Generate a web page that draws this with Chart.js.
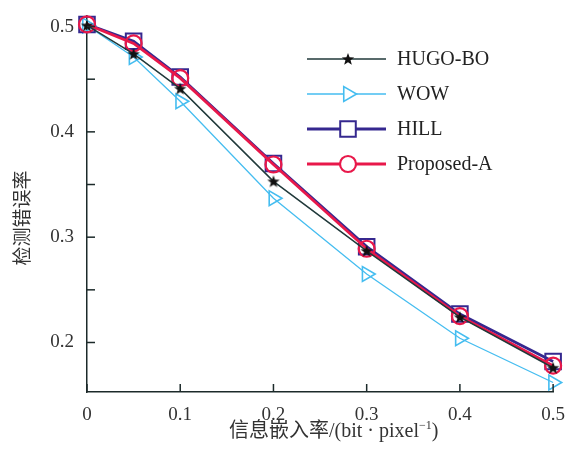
<!DOCTYPE html>
<html>
<head>
<meta charset="utf-8">
<script src="https://cdn.jsdelivr.net/npm/chart.js@4/dist/chart.umd.min.js"></script>
<style>
  html, body { margin: 0; padding: 0; background: #fff; }
  #wrap { width: 577px; height: 449px; }
</style>
</head>
<body>
<div id="wrap"><canvas id="chart" width="577" height="449"></canvas></div>
<script>
// embedding rate (bit/pixel)
const xValues = [0, 0.05, 0.1, 0.2, 0.3, 0.4, 0.5];
// detection error rate per method
const hugoBO    = [0.501, 0.474, 0.441, 0.353, 0.287, 0.224, 0.176];
const wow       = [0.501, 0.471, 0.429, 0.337, 0.265, 0.204, 0.162];
const hill      = [0.502, 0.486, 0.452, 0.370, 0.291, 0.227, 0.182];
const proposedA = [0.502, 0.484, 0.451, 0.369, 0.289, 0.225, 0.178];

const xTicks = [0, 0.1, 0.2, 0.3, 0.4, 0.5];
const yTicks = [0.2, 0.25, 0.3, 0.35, 0.4, 0.45, 0.5];
const yLabels = [0.2, 0.3, 0.4, 0.5];

const serif = "'Liberation Serif', 'DejaVu Serif', serif";
const cjk = "'Noto Sans CJK SC', sans-serif";
const axisColor = "#1c2a2a";

// small filled five-point star for HUGO-BO
const star = document.createElement("canvas");
star.width = 14; star.height = 14;
(function () {
  const c = star.getContext("2d");
  c.fillStyle = "#111";
  c.beginPath();
  for (let i = 0; i < 10; i++) {
    const r = i % 2 === 0 ? 6.5 : 2.7;
    const a = -Math.PI / 2 + i * Math.PI / 5;
    const px = 7 + r * Math.cos(a), py = 7.5 + r * Math.sin(a);
    if (i === 0) c.moveTo(px, py); else c.lineTo(px, py);
  }
  c.closePath();
  c.fill();
})();

const toPoints = ys => xValues.map((x, i) => ({ x: x, y: ys[i] }));

const datasets = [
  { label: "HUGO-BO", data: toPoints(hugoBO), borderColor: "#20393a", borderWidth: 1.5,
    pointStyle: star, pointRadius: 6, order: 0 },
  { label: "WOW", data: toPoints(wow), borderColor: "#45bdf0", borderWidth: 1.3,
    pointStyle: "triangle", pointRotation: 90, pointRadius: 8.5, pointBorderWidth: 1.6, order: 3 },
  { label: "HILL", data: toPoints(hill), borderColor: "#35288f", borderWidth: 2.8,
    pointStyle: "rect", pointRadius: 11, pointBorderWidth: 2, order: 2 },
  { label: "Proposed-A", data: toPoints(proposedA), borderColor: "#e8184a", borderWidth: 2.8,
    pointStyle: "circle", pointRadius: 8, pointBorderWidth: 2.2, order: 1 }
];
datasets.forEach(d => {
  d.pointBorderColor = d.borderColor;
  d.pointBackgroundColor = "rgba(255,255,255,0)";
  d.fill = false;
  d.tension = 0;
  d.clip = false;
  d.showLine = true;
});

// inward tick marks, axis titles and the line+marker legend
const decor = {
  id: "decor",
  afterDatasetsDraw(chart) {
    const ctx = chart.ctx;
    const xs = chart.scales.x, ys = chart.scales.y;
    const area = chart.chartArea;
    ctx.save();
    ctx.strokeStyle = axisColor;
    ctx.lineWidth = 1.5;
    yTicks.forEach(v => {
      const y = ys.getPixelForValue(v);
      ctx.beginPath(); ctx.moveTo(area.left, y); ctx.lineTo(area.left + 8, y); ctx.stroke();
    });
    xTicks.forEach(v => {
      const x = xs.getPixelForValue(v);
      ctx.beginPath(); ctx.moveTo(x, area.bottom); ctx.lineTo(x, area.bottom - 8); ctx.stroke();
    });

    // y title
    ctx.fillStyle = "#333";
    ctx.save();
    ctx.translate(22, 218);
    ctx.rotate(-Math.PI / 2);
    ctx.font = "19px " + cjk;
    ctx.textAlign = "center";
    ctx.textBaseline = "middle";
    ctx.fillText("检测错误率", 0, 0);
    ctx.restore();

    // x title, drawn in pieces so the superscript sits right
    ctx.textBaseline = "alphabetic";
    ctx.textAlign = "left";
    let tx = 229;
    const base = 437;
    const parts = [
      ["信息嵌入率", "20px " + cjk, 0],
      ["/(bit", "20px " + serif, 0],
      [" · ", "20px " + serif, 0],
      ["pixel", "20px " + serif, 0],
      ["−1", "12px " + serif, -8],
      [")", "20px " + serif, 0]
    ];
    parts.forEach(([t, f, dy]) => {
      ctx.font = f;
      ctx.fillText(t, tx, base + dy);
      tx += ctx.measureText(t).width;
    });

    // legend
    const rows = [59, 94, 129, 164];
    chart.data.datasets.forEach((d, k) => {
      const y = rows[k];
      ctx.strokeStyle = d.borderColor;
      ctx.lineWidth = d.borderWidth;
      ctx.beginPath(); ctx.moveTo(307, y); ctx.lineTo(386, y); ctx.stroke();
      ctx.fillStyle = "#fff";
      ctx.strokeStyle = d.pointBorderColor;
      ctx.lineWidth = d.pointBorderWidth || 1;
      if (Chart.helpers && Chart.helpers.drawPoint) {
        Chart.helpers.drawPoint(ctx, {
          pointStyle: d.pointStyle, rotation: d.pointRotation || 0,
          radius: d.pointRadius, borderWidth: d.pointBorderWidth || 1
        }, 348, y);
      }
      ctx.fillStyle = "#222";
      ctx.font = "20px " + serif;
      ctx.textBaseline = "middle";
      ctx.fillText(d.label, 397, y + 1);
    });
    ctx.restore();
  }
};

new Chart(document.getElementById("chart"), {
  type: "line",
  data: { datasets: datasets },
  options: {
    responsive: false,
    animation: false,
    layout: { padding: { top: 16, right: 23, left: 0, bottom: 0 } },
    plugins: {
      legend: { display: false },
      tooltip: { enabled: false }
    },
    scales: {
      x: {
        type: "linear",
        min: 0,
        max: 0.5,
        afterFit: s => { s.height = 57; },
        afterBuildTicks: s => { s.ticks = xTicks.map(v => ({ value: v })); },
        border: { display: true, color: axisColor, width: 1.5 },
        grid: { display: false, drawTicks: false, tickLength: 0 },
        ticks: {
          color: "#333",
          padding: 12,
          maxRotation: 0,
          font: { family: serif, size: 19 },
          callback: v => String(v)
        }
      },
      y: {
        type: "linear",
        min: 0.153,
        max: 0.51,
        afterFit: s => { s.width = 87; s.paddingTop = 0; s.paddingBottom = 0; },
        afterBuildTicks: s => { s.ticks = yTicks.map(v => ({ value: v })); },
        border: { display: true, color: axisColor, width: 1.5 },
        grid: { display: false, drawTicks: false, tickLength: 0 },
        ticks: {
          color: "#333",
          padding: 13,
          font: { family: serif, size: 19 },
          callback: v => yLabels.some(l => Math.abs(l - v) < 1e-9) ? v.toFixed(1) : ""
        }
      }
    }
  },
  plugins: [decor]
});
</script>
</body>
</html>
